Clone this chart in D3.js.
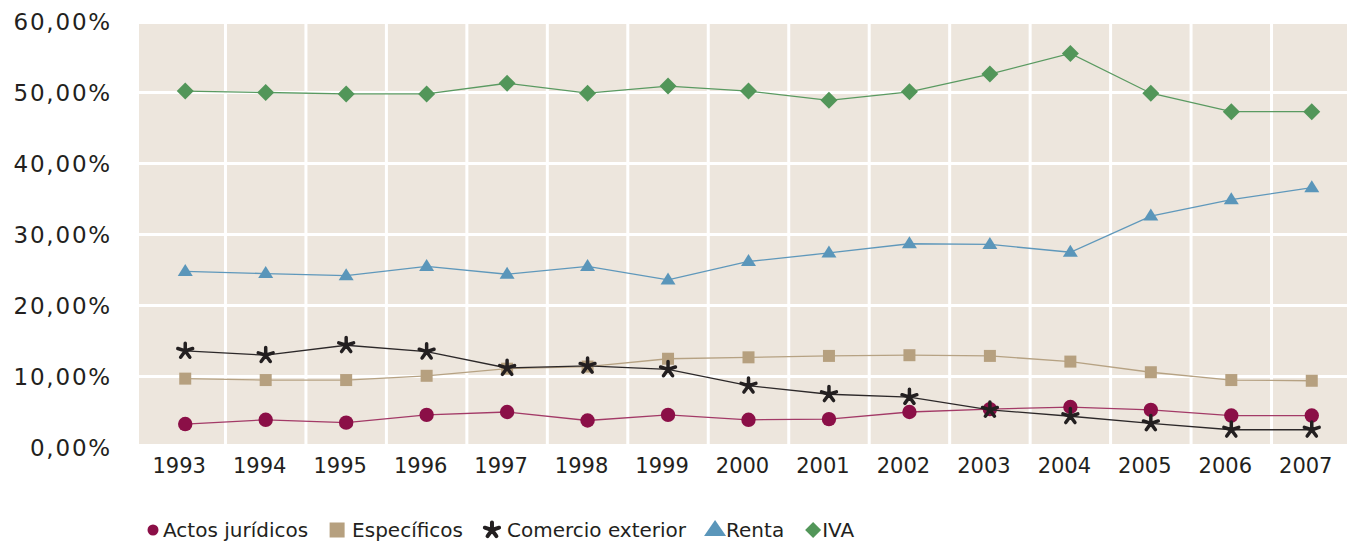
<!DOCTYPE html>
<html>
<head>
<meta charset="utf-8">
<script src="https://cdn.jsdelivr.net/npm/d3@7"></script>
<style>
  body { margin: 0; background: #fff; }
  text { font-family: "DejaVu Sans", sans-serif; fill: #231f20; }
</style>
</head>
<body>
<svg></svg>
<script>
// data (share of total, %)
var years = ['1993','1994','1995','1996','1997','1998','1999','2000','2001','2002','2003','2004','2005','2006','2007'];
var actos = [3.3, 3.9, 3.5, 4.6, 5.0, 3.8, 4.6, 3.9, 4.0, 5.0, 5.4, 5.7, 5.3, 4.5, 4.5];
var especificos = [9.7, 9.5, 9.5, 10.1, 11.1, 11.4, 12.5, 12.7, 12.9, 13.0, 12.9, 12.1, 10.6, 9.5, 9.4];
var comercio = [13.6, 13.0, 14.4, 13.5, 11.2, 11.5, 11.0, 8.7, 7.5, 7.1, 5.3, 4.4, 3.4, 2.5, 2.5];
var renta = [24.8, 24.5, 24.2, 25.5, 24.4, 25.5, 23.6, 26.2, 27.4, 28.7, 28.6, 27.5, 32.6, 34.9, 36.6];
var iva = [50.2, 50.0, 49.8, 49.8, 51.3, 49.9, 50.9, 50.2, 48.9, 50.1, 52.6, 55.5, 49.9, 47.3, 47.3];
var yTicks = [0, 10, 20, 30, 40, 50, 60];

var width = 1347, height = 544;
var plotLeft = 139, plotRight = 1347;

var svg = d3.select('svg')
    .attr('width', width)
    .attr('height', height);

var x = d3.scaleBand().domain(years).range([145, 1352]);
var y = d3.scaleLinear().domain([0, 60]).range([447.5, 21.5]);

// star (asterisk) marker with five arms
function starPath(r) {
  var p = '';
  for (var i = 0; i < 5; i++) {
    var a = (-90 + i * 72) * Math.PI / 180;
    p += 'M0,0L' + (r * Math.cos(a)).toFixed(2) + ',' + (r * Math.sin(a)).toFixed(2);
  }
  return p;
}

var series = [
  {name: 'Actos jurídicos', values: actos, marker: '#8b0f47', line: '#a33a67', shape: 'circle'},
  {name: 'Específicos', values: especificos, marker: '#b6a07f', line: '#b6a283', shape: 'square'},
  {name: 'Comercio exterior', values: comercio, marker: '#231f20', line: '#2c2829', shape: 'star'},
  {name: 'Renta', values: renta, marker: '#5a96ba', line: '#5f98bb', shape: 'triangle'},
  {name: 'IVA', values: iva, marker: '#529659', line: '#5a9a61', shape: 'diamond'}
];

// plot background
svg.append('rect')
    .attr('x', plotLeft)
    .attr('y', y(60) + 2.5)
    .attr('width', plotRight - plotLeft)
    .attr('height', y(0) - y(60) - 6)
    .attr('fill', '#ede6dd');

var grid = svg.append('g').attr('class', 'grid');
grid.selectAll('.hline')
    .data(yTicks.filter(function(d) { return d > 0 && d < 60; }))
    .enter().append('line')
    .attr('x1', plotLeft).attr('x2', plotRight)
    .attr('y1', function(d) { return y(d); })
    .attr('y2', function(d) { return y(d); })
    .attr('stroke', '#fff').attr('stroke-width', 3);

grid.selectAll('.vline')
    .data(years.slice(1))
    .enter().append('line')
    .attr('x1', function(d) { return x(d); })
    .attr('x2', function(d) { return x(d); })
    .attr('y1', y(60) + 2.5).attr('y2', y(0) - 3.5)
    .attr('stroke', '#fff').attr('stroke-width', 3);

// y axis labels
svg.append('g')
  .selectAll('text')
    .data(yTicks)
    .enter().append('text')
    .attr('x', 112)
    .attr('y', function(d) { return y(d); })
    .attr('dy', '0.36em')
    .style('text-anchor', 'end')
    .style('font-size', '23px')
    .style('letter-spacing', '1.8px')
    .text(function(d) { return d3.format('.2f')(d).replace('.', ',') + '%'; });

// x axis labels
svg.append('g')
  .selectAll('text')
    .data(years)
    .enter().append('text')
    .attr('x', function(d) { return x(d) + x.bandwidth() / 2 - 6; })
    .attr('y', 473)
    .style('text-anchor', 'middle')
    .style('font-size', '21px')
    .text(function(d) { return d; });

function drawMarker(g, shape, color, size) {
  if (shape === 'circle') {
    g.append('circle').attr('r', size.r).attr('fill', color);
  } else if (shape === 'square') {
    g.append('rect').attr('x', -size.s / 2).attr('y', -size.s / 2)
      .attr('width', size.s).attr('height', size.s).attr('fill', color);
  } else if (shape === 'triangle') {
    g.append('path')
      .attr('d', 'M0,' + (-size.th * 0.62) + 'L' + (size.tw / 2) + ',' + (size.th * 0.38) + 'L' + (-size.tw / 2) + ',' + (size.th * 0.38) + 'Z')
      .attr('fill', color);
  } else if (shape === 'diamond') {
    g.append('path')
      .attr('d', 'M0,' + (-size.d) + 'L' + size.d + ',0L0,' + size.d + 'L' + (-size.d) + ',0Z')
      .attr('fill', color);
  } else if (shape === 'star') {
    g.append('path').attr('d', starPath(size.a))
      .attr('stroke', color).attr('stroke-width', size.sw)
      .attr('stroke-linecap', 'round').attr('fill', 'none');
  }
}

var line = d3.line()
    .x(function(d, i) { return x(years[i]) + x.bandwidth() / 2; })
    .y(function(d) { return y(d); });

var plotSize = {r: 7.2, s: 12, tw: 15, th: 12, d: 8.5, a: 7.8, sw: 3.5};

series.forEach(function(s) {
  var g = svg.append('g').attr('class', 'series');
  g.append('path')
    .datum(s.values)
    .attr('d', line)
    .attr('fill', 'none')
    .attr('stroke', s.line)
    .attr('stroke-width', 1.3);

  g.selectAll('.pt')
    .data(s.values)
    .enter().append('g')
    .attr('class', 'pt')
    .attr('transform', function(d, i) {
      return 'translate(' + (x(years[i]) + x.bandwidth() / 2) + ',' + y(d) + ')';
    })
    .each(function() { drawMarker(d3.select(this), s.shape, s.marker, plotSize); });
});

// legend
var legendSize = {r: 5.5, s: 15, tw: 22, th: 16, d: 8, a: 7.5, sw: 4};
var lx = 153;
series.forEach(function(s, i) {
  var item = svg.append('g').attr('transform', 'translate(' + lx + ',530)');
  drawMarker(item, s.shape, s.marker, legendSize);
  var off = [10, 15, 15, 11, 9][i];
  var t = item.append('text')
    .attr('x', off)
    .attr('y', 7)
    .style('font-size', '20px')
    .text(s.name);
  lx += off + t.node().getComputedTextLength() + 29;
});
</script>
</body>
</html>
